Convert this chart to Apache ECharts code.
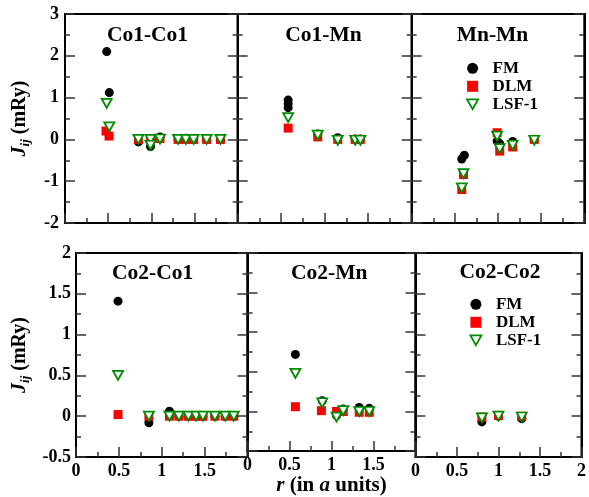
<!DOCTYPE html>
<html><head><meta charset="utf-8">
<script src="https://cdn.jsdelivr.net/npm/echarts/dist/echarts.min.js"></script>
<style>html,body{margin:0;padding:0;background:#fff}#c{width:589px;height:497px;background:#fff}</style>
</head><body><div id="c"></div>
<script>
// ---- data ----
const panelTitles = ['Co1-Co1', 'Co1-Mn', 'Mn-Mn', 'Co2-Co1', 'Co2-Mn', 'Co2-Co2'];
const seriesNames = ['FM', 'DLM', 'LSF-1'];
const topYTicks = [-2, -1, 0, 1, 2, 3];
const bottomYTicks = [-0.5, 0, 0.5, 1, 1.5, 2];
const xTicks = [0, 0.5, 1, 1.5, 2];

const co1co1_FM  = [[0.483,2.10],[0.513,1.12],[0.85,-0.06],[0.99,-0.17],[1.0,-0.02],[1.10,0.06],[1.31,0.0],[1.40,0.03],[1.49,0.0],[1.64,0.0],[1.80,0.0]];
const co1co1_DLM = [[0.475,0.20],[0.51,0.08],[0.85,0.0],[0.99,0.0],[1.10,0.02],[1.31,0.0],[1.40,0.0],[1.49,0.0],[1.64,0.0],[1.80,0.0]];
const co1co1_LSF = [[0.483,0.86],[0.513,0.30],[0.85,0.0],[0.99,0.0],[0.99,-0.14],[1.10,0.01],[1.31,0.0],[1.40,0.0],[1.49,0.0],[1.64,0.0],[1.80,0.0]];

const co1mn_FM  = [[0.58,0.94],[0.58,0.85],[0.58,0.76],[0.92,0.13],[1.15,0.04],[1.35,0.01],[1.41,0.01]];
const co1mn_DLM = [[0.58,0.27],[0.92,0.06],[1.15,0.0],[1.35,0.0],[1.41,0.0]];
const co1mn_LSF = [[0.58,0.52],[0.92,0.10],[1.15,-0.02],[1.35,-0.02],[1.41,-0.02]];

const mnmn_FM  = [[0.58,-0.47],[0.61,-0.38],[0.99,-0.04],[1.02,-0.10],[1.17,-0.05],[1.42,0.0]];
const mnmn_DLM = [[0.60,-0.84],[0.58,-1.20],[0.99,0.16],[1.02,-0.28],[1.17,-0.18],[1.42,0.0]];
const mnmn_LSF = [[0.60,-0.82],[0.58,-1.16],[0.99,0.08],[1.02,-0.22],[1.17,-0.14],[1.42,-0.02]];

const co2co1_FM  = [[0.49,1.41],[0.85,-0.08],[1.09,0.06],[1.20,0.0],[1.31,0.0],[1.40,0.0],[1.48,0.0],[1.62,0.0],[1.74,0.0],[1.84,0.0]];
const co2co1_DLM = [[0.49,0.02],[0.85,0.0],[1.09,0.0],[1.20,0.0],[1.31,0.0],[1.40,0.0],[1.48,0.0],[1.62,0.0],[1.74,0.0],[1.84,0.0]];
const co2co1_LSF = [[0.49,0.50],[0.85,0.0],[1.09,0.0],[1.20,0.0],[1.31,0.0],[1.40,0.0],[1.48,0.0],[1.62,0.0],[1.74,0.0],[1.84,0.0]];

const co2mn_FM  = [[0.57,0.72],[0.89,0.135],[1.06,-0.05],[1.14,0.03],[1.33,0.05],[1.45,0.04]];
const co2mn_DLM = [[0.57,0.06],[0.88,0.01],[1.06,0.0],[1.14,0.0],[1.33,-0.01],[1.45,-0.01]];
const co2mn_LSF = [[0.57,0.48],[0.89,0.11],[1.06,-0.07],[1.14,0.01],[1.33,0.0],[1.45,0.0]];

const co2co2_FM  = [[0.80,-0.07],[1.0,0.0],[1.28,-0.03]];
const co2co2_DLM = [[0.80,-0.01],[1.0,0.01],[1.28,0.0]];
const co2co2_LSF = [[0.80,-0.02],[1.0,0.0],[1.28,-0.01]];

const panelData = [
  [co1co1_FM, co1co1_DLM, co1co1_LSF],
  [co1mn_FM, co1mn_DLM, co1mn_LSF],
  [mnmn_FM, mnmn_DLM, mnmn_LSF],
  [co2co1_FM, co2co1_DLM, co2co1_LSF],
  [co2mn_FM, co2mn_DLM, co2mn_LSF],
  [co2co2_FM, co2co2_DLM, co2co2_LSF]
];

// ---- layout / style ----
const FONT = "Liberation Serif";
const GREEN = '#008b00';
const gridBoxes = [
  [65, 14, 172.7, 209],
  [237.7, 14, 174, 209],
  [411.7, 14, 172.6, 209],
  [76, 253, 171.5, 204],
  [247.5, 253, 168, 204],
  [415.5, 253, 168.5, 204]
];
const grids = gridBoxes.map(b => ({left:b[0], top:b[1], width:b[2], height:b[3], show:true, borderColor:'#000', borderWidth:2}));

const tick = () => ({show:true, inside:true, length:10, lineStyle:{color:'#333', width:1.5}});
const minor = () => ({show:true, splitNumber:2, length:5, lineStyle:{color:'#333', width:1.5}});
const labelStyle = () => ({fontFamily:FONT, fontWeight:'bold', fontSize:18, color:'#000'});

const xAxes = grids.map((g, i) => {
  const bottom = i >= 3;
  const ax = {
    type:'value', gridIndex:i, z:10, min:xTicks[0], max:xTicks[xTicks.length-1], interval:0.5,
    axisLine:{show:true, onZero:false, lineStyle:{color:'#000', width:2}},
    axisTick:tick(), minorTick:minor(),
    splitLine:{show:false},
    axisLabel:Object.assign({show:bottom, margin:5, showMaxLabel:(i === 5)}, labelStyle())
  };
  if (i === 4) {
    ax.name = '{i|r} (in {i|a} units)';
    ax.nameLocation = 'middle';
    ax.nameGap = 21;
    ax.nameTextStyle = {fontFamily:FONT, fontWeight:'bold', fontSize:21, color:'#000',
      rich:{i:{fontFamily:FONT, fontWeight:'bold', fontStyle:'italic', fontSize:21, color:'#000'}}};
  }
  return ax;
});

const yAxes = [];
grids.forEach((g, i) => {
  const bottom = i >= 3;
  const ticks = bottom ? bottomYTicks : topYTicks;
  const mk = (pos) => ({
    type:'value', gridIndex:i, z:10, position:pos, min:ticks[0], max:ticks[ticks.length-1], interval:bottom ? 0.5 : 1,
    axisLine:{show:true, onZero:false, lineStyle:{color:'#000', width:2}},
    axisTick:tick(), minorTick:minor(),
    splitLine:{show:false}
  });
  const left = mk('left');
  left.axisLabel = Object.assign({show:(i === 0 || i === 3), margin:bottom ? 5 : 6}, labelStyle());
  if (i === 0 || i === 3) {
    left.name = '{j|J}{s|ij}{n| (mRy)}';
    left.nameLocation = 'middle';
    left.nameRotate = 90;
    left.nameGap = bottom ? 44 : 33;
    left.nameTextStyle = {rich:{
      j:{fontFamily:FONT, fontWeight:'bold', fontStyle:'italic', fontSize:20, color:'#000'},
      s:{fontFamily:FONT, fontWeight:'bold', fontStyle:'italic', fontSize:13, color:'#000', padding:[12,0,0,0]},
      n:{fontFamily:FONT, fontWeight:'bold', fontSize:20, color:'#000'}
    }};
  }
  const right = mk('right');
  right.axisLabel = {show:false};
  yAxes.push(left, right);
});

const symbolDefs = [
  {symbol:'circle', symbolSize:9, itemStyle:{color:'#000', opacity:1}},
  {symbol:'rect', symbolSize:9, itemStyle:{color:'#ff0000', opacity:1}},
  {symbol:'triangle', symbolSize:[10,9], symbolRotate:180, itemStyle:{color:'#fff', borderColor:GREEN, borderWidth:1.8, opacity:1}}
];

const series = [];
panelData.forEach((arrs, p) => {
  arrs.forEach((d, s) => {
    series.push(Object.assign({
      type:'scatter', name:seriesNames[s], xAxisIndex:p, yAxisIndex:2*p, data:d
    }, symbolDefs[s]));
  });
});

const legendData = [
  {name:'FM', icon:'circle', itemStyle:{color:'#000', opacity:1}},
  {name:'DLM', icon:'rect', itemStyle:{color:'#ff0000', opacity:1}},
  {name:'LSF-1', icon:'path://M0,0L10,0L5,9Z', itemStyle:{color:'#fff', borderColor:GREEN, borderWidth:1.8, opacity:1}}
];
const legendBase = {orient:'vertical', align:'left', itemWidth:11, itemHeight:11, itemGap:0,
  selectedMode:false, data:legendData,
  textStyle:{fontFamily:FONT, fontWeight:'bold', fontSize:17, color:'#000', lineHeight:18, padding:[0,0,0,9.5]}};

const titlePos = [[147.5,35],[323.5,35],[492.5,35],[152.7,273.5],[329.2,273],[500,272.5]];
const graphics = panelTitles.map((t, i) => ({
  type:'text', x:titlePos[i][0], y:titlePos[i][1],
  style:{text:t, textAlign:'center', textVerticalAlign:'middle', fill:'#000',
    font:"bold 21.5px 'Liberation Serif', serif"}
}));

const chart = echarts.init(document.getElementById('c'));
chart.setOption({
  animation:false,
  grid:grids,
  xAxis:xAxes,
  yAxis:yAxes,
  legend:[
    Object.assign({left:461.2, top:54.3}, legendBase),
    Object.assign({left:464.5, top:290.3}, legendBase)
  ],
  graphic:graphics,
  series:series
});
</script></body></html>
